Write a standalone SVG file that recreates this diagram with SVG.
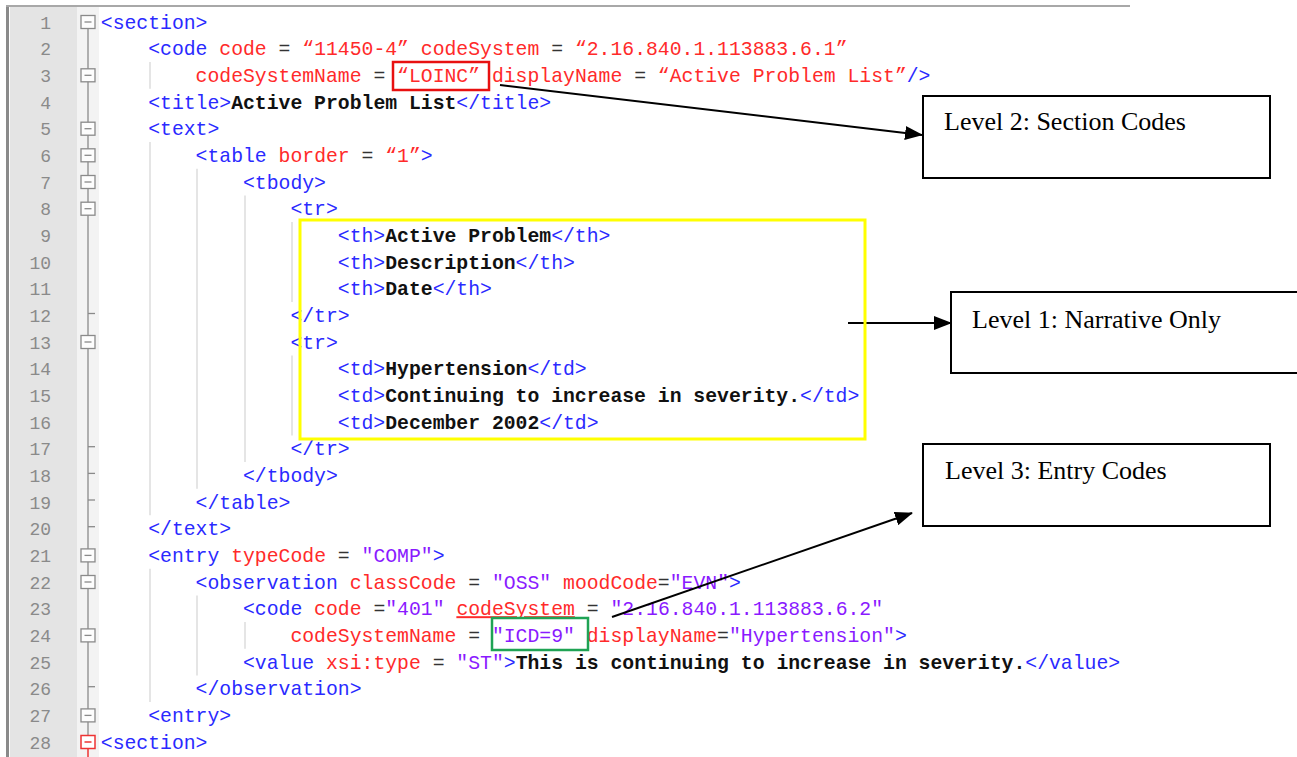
<svg xmlns="http://www.w3.org/2000/svg" width="1297" height="757" viewBox="0 0 1297 757">
<style>
.code{font-family:"Liberation Mono","Courier New",monospace;font-size:19.75px}
.t{fill:#2a2aff}
.a{fill:#ff2a2a}
.v{fill:#8a1aff}
.e{fill:#333}
.x{fill:#111;font-weight:bold}
.n{font-family:"Liberation Mono","Courier New",monospace;font-size:18px;fill:#8a8a8a;text-anchor:end}
.guide{stroke:#dcdcdc;stroke-width:1.5}
.fold{fill:#fdfdfd;stroke:#8a8a8a;stroke-width:1.3}
.minus{stroke:#8a8a8a;stroke-width:1.3}
.tick{stroke:#8a8a8a;stroke-width:1.3}
.lvl rect{fill:#fff;stroke:#000;stroke-width:2}
.lvl text{font-family:"Liberation Serif","Times New Roman",serif;font-size:26px;fill:#000}
.conn{stroke:#000;stroke-width:2;fill:none;marker-end:url(#ah)}
</style>
<defs>
<marker id="ah" markerUnits="userSpaceOnUse" markerWidth="18" markerHeight="14" refX="17" refY="7" orient="auto">
<path d="M0,0 L18,7 L0,14 z" fill="#000"/>
</marker>
</defs>
<rect width="1297" height="757" fill="#fff"/>
<g id="editor">
<rect x="10" y="7" width="67" height="750" fill="#e4e4e4"/>
<rect x="77" y="7" width="22" height="750" fill="#f3f3f3"/>
<rect x="6" y="6" width="3" height="751" fill="#8a8a8a"/>
<line x1="6" y1="6" x2="1130" y2="6" stroke="#a8a8a8" stroke-width="2"/>
<g id="line-numbers">
<text class="n" x="51" y="28.5">1</text>
<text class="n" x="51" y="55.2">2</text>
<text class="n" x="51" y="81.8">3</text>
<text class="n" x="51" y="108.5">4</text>
<text class="n" x="51" y="135.2">5</text>
<text class="n" x="51" y="161.9">6</text>
<text class="n" x="51" y="188.5">7</text>
<text class="n" x="51" y="215.2">8</text>
<text class="n" x="51" y="241.9">9</text>
<text class="n" x="51" y="268.5">10</text>
<text class="n" x="51" y="295.2">11</text>
<text class="n" x="51" y="321.9">12</text>
<text class="n" x="51" y="348.5">13</text>
<text class="n" x="51" y="375.2">14</text>
<text class="n" x="51" y="401.9">15</text>
<text class="n" x="51" y="428.6">16</text>
<text class="n" x="51" y="455.2">17</text>
<text class="n" x="51" y="481.9">18</text>
<text class="n" x="51" y="508.6">19</text>
<text class="n" x="51" y="535.2">20</text>
<text class="n" x="51" y="561.9">21</text>
<text class="n" x="51" y="588.6">22</text>
<text class="n" x="51" y="615.2">23</text>
<text class="n" x="51" y="641.9">24</text>
<text class="n" x="51" y="668.6">25</text>
<text class="n" x="51" y="695.2">26</text>
<text class="n" x="51" y="721.9">27</text>
<text class="n" x="51" y="748.6">28</text>
</g>
<g id="fold-margin">
<line x1="88" y1="22" x2="88" y2="742" stroke="#8a8a8a" stroke-width="1.3"/>
<line x1="88" y1="748" x2="88" y2="757" stroke="#ee3333" stroke-width="1.5"/>
<line class="tick" x1="88" y1="313.5" x2="95" y2="313.5"/>
<line class="tick" x1="88" y1="446.7" x2="95" y2="446.7"/>
<line class="tick" x1="88" y1="473.4" x2="95" y2="473.4"/>
<line class="tick" x1="88" y1="500" x2="95" y2="500"/>
<line class="tick" x1="88" y1="526.7" x2="95" y2="526.7"/>
<line class="tick" x1="88" y1="686.7" x2="95" y2="686.7"/>
<g id="fold-boxes">
<rect class="fold" x="81" y="15.5" width="14" height="13"/><line class="minus" x1="84.5" y1="22" x2="91.5" y2="22"/>
<rect class="fold" x="81" y="68.8" width="14" height="13"/><line class="minus" x1="84.5" y1="75.3" x2="91.5" y2="75.3"/>
<rect class="fold" x="81" y="122.2" width="14" height="13"/><line class="minus" x1="84.5" y1="128.7" x2="91.5" y2="128.7"/>
<rect class="fold" x="81" y="148.8" width="14" height="13"/><line class="minus" x1="84.5" y1="155.3" x2="91.5" y2="155.3"/>
<rect class="fold" x="81" y="175.5" width="14" height="13"/><line class="minus" x1="84.5" y1="182" x2="91.5" y2="182"/>
<rect class="fold" x="81" y="202.2" width="14" height="13"/><line class="minus" x1="84.5" y1="208.7" x2="91.5" y2="208.7"/>
<rect class="fold" x="81" y="335.5" width="14" height="13"/><line class="minus" x1="84.5" y1="342" x2="91.5" y2="342"/>
<rect class="fold" x="81" y="548.9" width="14" height="13"/><line class="minus" x1="84.5" y1="555.4" x2="91.5" y2="555.4"/>
<rect class="fold" x="81" y="575.5" width="14" height="13"/><line class="minus" x1="84.5" y1="582" x2="91.5" y2="582"/>
<rect class="fold" x="81" y="628.9" width="14" height="13"/><line class="minus" x1="84.5" y1="635.4" x2="91.5" y2="635.4"/>
<rect class="fold" x="81" y="708.9" width="14" height="13"/><line class="minus" x1="84.5" y1="715.4" x2="91.5" y2="715.4"/>
<rect x="81" y="735.5" width="14" height="13" fill="#fff" stroke="#ee3333" stroke-width="1.5"/><line x1="84.5" y1="742" x2="91.5" y2="742" stroke="#ee3333" stroke-width="1.5"/>
</g>
</g>
<g id="indent-guides">
<line class="guide" x1="150" y1="62" x2="150" y2="88.7"/>
<line class="guide" x1="150" y1="142" x2="150" y2="515.3"/>
<line class="guide" x1="150" y1="568.7" x2="150" y2="702"/>
<line class="guide" x1="197" y1="168.7" x2="197" y2="488.7"/>
<line class="guide" x1="197" y1="595.4" x2="197" y2="675.4"/>
<line class="guide" x1="245" y1="195.4" x2="245" y2="462"/>
<line class="guide" x1="245" y1="622" x2="245" y2="648.7"/>
<line class="guide" x1="292" y1="222" x2="292" y2="302"/>
<line class="guide" x1="292" y1="355.4" x2="292" y2="435.4"/>
</g>
<g id="code" class="code" xml:space="preserve">
<text x="100.8" y="28.5"><tspan class="t">&lt;section&gt;</tspan></text>
<text x="148.2" y="55.2"><tspan class="t">&lt;code</tspan><tspan class="a"> code</tspan><tspan class="e"> = </tspan><tspan class="a">“11450-4”</tspan><tspan class="a"> codeSystem</tspan><tspan class="e"> = </tspan><tspan class="a">“2.16.840.1.113883.6.1”</tspan></text>
<text x="195.6" y="81.8"><tspan class="a">codeSystemName</tspan><tspan class="e"> = </tspan><tspan class="a">“LOINC”</tspan><tspan class="a"> displayName</tspan><tspan class="e"> = </tspan><tspan class="a">“Active Problem List”</tspan><tspan class="t">/&gt;</tspan></text>
<text x="148.2" y="108.5"><tspan class="t">&lt;title&gt;</tspan><tspan class="x">Active Problem List</tspan><tspan class="t">&lt;/title&gt;</tspan></text>
<text x="148.2" y="135.2"><tspan class="t">&lt;text&gt;</tspan></text>
<text x="195.6" y="161.9"><tspan class="t">&lt;table</tspan><tspan class="a"> border</tspan><tspan class="e"> = </tspan><tspan class="a">“1”</tspan><tspan class="t">&gt;</tspan></text>
<text x="243" y="188.5"><tspan class="t">&lt;tbody&gt;</tspan></text>
<text x="290.4" y="215.2"><tspan class="t">&lt;tr&gt;</tspan></text>
<text x="337.8" y="241.9"><tspan class="t">&lt;th&gt;</tspan><tspan class="x">Active Problem</tspan><tspan class="t">&lt;/th&gt;</tspan></text>
<text x="337.8" y="268.5"><tspan class="t">&lt;th&gt;</tspan><tspan class="x">Description</tspan><tspan class="t">&lt;/th&gt;</tspan></text>
<text x="337.8" y="295.2"><tspan class="t">&lt;th&gt;</tspan><tspan class="x">Date</tspan><tspan class="t">&lt;/th&gt;</tspan></text>
<text x="290.4" y="321.9"><tspan class="t">&lt;/tr&gt;</tspan></text>
<text x="290.4" y="348.5"><tspan class="t">&lt;tr&gt;</tspan></text>
<text x="337.8" y="375.2"><tspan class="t">&lt;td&gt;</tspan><tspan class="x">Hypertension</tspan><tspan class="t">&lt;/td&gt;</tspan></text>
<text x="337.8" y="401.9"><tspan class="t">&lt;td&gt;</tspan><tspan class="x">Continuing to increase in severity.</tspan><tspan class="t">&lt;/td&gt;</tspan></text>
<text x="337.8" y="428.6"><tspan class="t">&lt;td&gt;</tspan><tspan class="x">December 2002</tspan><tspan class="t">&lt;/td&gt;</tspan></text>
<text x="290.4" y="455.2"><tspan class="t">&lt;/tr&gt;</tspan></text>
<text x="243" y="481.9"><tspan class="t">&lt;/tbody&gt;</tspan></text>
<text x="195.6" y="508.6"><tspan class="t">&lt;/table&gt;</tspan></text>
<text x="148.2" y="535.2"><tspan class="t">&lt;/text&gt;</tspan></text>
<text x="148.2" y="561.9"><tspan class="t">&lt;entry</tspan><tspan class="a"> typeCode</tspan><tspan class="e"> = </tspan><tspan class="v">"COMP"</tspan><tspan class="t">&gt;</tspan></text>
<text x="195.6" y="588.6"><tspan class="t">&lt;observation</tspan><tspan class="a"> classCode</tspan><tspan class="e"> = </tspan><tspan class="v">"OSS"</tspan><tspan class="a"> moodCode</tspan><tspan class="e">=</tspan><tspan class="v">"EVN"</tspan><tspan class="t">&gt;</tspan></text>
<text x="243" y="615.2"><tspan class="t">&lt;code</tspan><tspan class="a"> code</tspan><tspan class="e"> =</tspan><tspan class="v">"401"</tspan> <tspan class="a" text-decoration="underline">codeSystem</tspan><tspan class="e"> = </tspan><tspan class="v">"2.16.840.1.113883.6.2"</tspan></text>
<text x="290.4" y="641.9"><tspan class="a">codeSystemName</tspan><tspan class="e"> = </tspan><tspan class="v">"ICD=9"</tspan><tspan class="a"> displayName</tspan><tspan class="e">=</tspan><tspan class="v">"Hypertension"</tspan><tspan class="t">&gt;</tspan></text>
<text x="243" y="668.6"><tspan class="t">&lt;value</tspan><tspan class="a"> xsi:type</tspan><tspan class="e"> = </tspan><tspan class="v">"ST"</tspan><tspan class="t">&gt;</tspan><tspan class="x">This is continuing to increase in severity.</tspan><tspan class="t">&lt;/value&gt;</tspan></text>
<text x="195.6" y="695.2"><tspan class="t">&lt;/observation&gt;</tspan></text>
<text x="148.2" y="721.9"><tspan class="t">&lt;entry&gt;</tspan></text>
<text x="100.8" y="748.6"><tspan class="t">&lt;section&gt;</tspan></text>
</g>
</g>
<g id="connectors">
<line class="conn" x1="500" y1="85" x2="922" y2="135"/>
<line class="conn" x1="848" y1="323" x2="951" y2="323"/>
<line class="conn" x1="612" y1="617" x2="912" y2="513"/>
</g>
<g id="loinc-highlight"><rect x="393" y="62" width="96" height="28" fill="none" stroke="#e81010" stroke-width="2.5"/></g>
<g id="narrative-highlight"><rect x="300" y="220" width="565" height="219" fill="none" stroke="#ffff00" stroke-width="3"/></g>
<g id="icd-highlight"><rect x="492" y="618" width="96" height="32" fill="none" stroke="#1fa354" stroke-width="2.5"/></g>
<g id="level2" class="lvl"><rect x="923" y="96" width="347" height="82"/><text x="944" y="130">Level 2: Section Codes</text></g>
<g id="level1" class="lvl"><rect x="951" y="292" width="348" height="81"/><text x="972" y="328">Level 1: Narrative Only</text></g>
<g id="level3" class="lvl"><rect x="923" y="444" width="347" height="82"/><text x="945" y="479">Level 3: Entry Codes</text></g>
</svg>
